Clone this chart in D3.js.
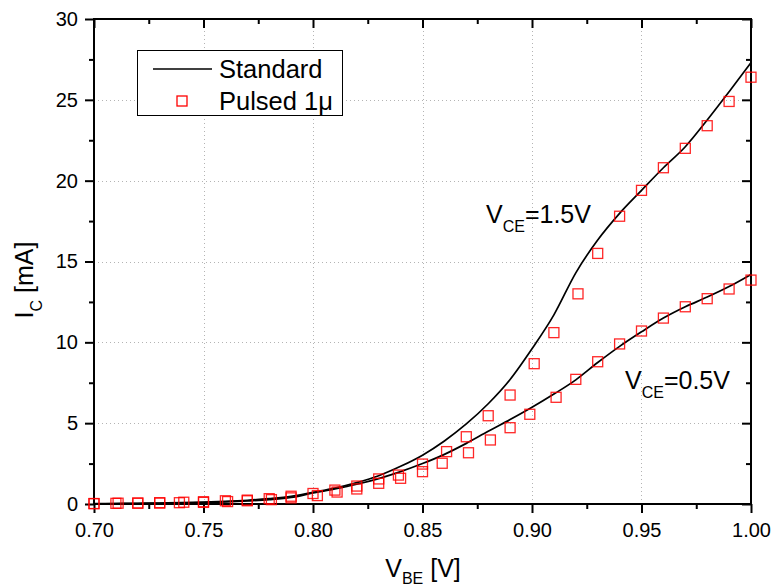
<!DOCTYPE html>
<html>
<head>
<meta charset="utf-8">
<script src="https://cdn.jsdelivr.net/npm/d3@7"></script>
<style>
  body { margin: 0; background: #fff; }
  svg { display: block; font-family: Arial, "Liberation Sans", sans-serif; }
</style>
</head>
<body>
<svg width="775" height="588"></svg>
<script>
// data
const vbe = [0.70, 0.71, 0.72, 0.73, 0.74, 0.75, 0.76, 0.77, 0.78, 0.79, 0.80,
  0.81, 0.82, 0.83, 0.84, 0.85, 0.86, 0.87, 0.88, 0.89, 0.90,
  0.91, 0.92, 0.93, 0.94, 0.95, 0.96, 0.97, 0.98, 0.99, 1.00];
const std15 = [0.02, 0.03, 0.04, 0.06, 0.08, 0.11, 0.16, 0.23, 0.33, 0.47, 0.72,
  0.98, 1.32, 1.75, 2.33, 3.02, 3.9, 4.95, 6.2, 7.7, 9.6,
  11.7, 14.3, 16.33, 17.98, 19.4, 20.8, 22.1, 23.75, 25.5, 27.3];
const std05 = [0.01, 0.02, 0.03, 0.04, 0.06, 0.09, 0.13, 0.19, 0.27, 0.4, 0.68,
  0.93, 1.22, 1.57, 2.0, 2.5, 3.07, 3.75, 4.5, 5.22, 5.98,
  6.8, 7.68, 8.75, 9.75, 10.65, 11.5, 12.2, 12.8, 13.45, 14.2];

const pulsedV15 = [0.700, 0.711, 0.720, 0.730, 0.741, 0.750, 0.760, 0.770, 0.780, 0.790, 0.800,
  0.810, 0.820, 0.830, 0.839, 0.850, 0.861, 0.870, 0.880, 0.890, 0.901,
  0.910, 0.921, 0.930, 0.940, 0.950, 0.960, 0.970, 0.980, 0.990, 1.000];
const pulsed15 = [0.03, 0.05, 0.06, 0.08, 0.11, 0.14, 0.2, 0.24, 0.33, 0.48, 0.65,
  0.86, 1.11, 1.55, 1.79, 2.47, 3.24, 4.16, 5.46, 6.74, 8.68,
  10.6, 13.0, 15.5, 17.8, 19.4, 20.8, 22.0, 23.4, 24.9, 26.4];
const pulsedV05 = [0.700, 0.710, 0.720, 0.730, 0.739, 0.750, 0.761, 0.770, 0.781, 0.790, 0.802,
  0.811, 0.820, 0.830, 0.840, 0.850, 0.859, 0.871, 0.881, 0.890, 0.899,
  0.911, 0.920, 0.930, 0.940, 0.950, 0.960, 0.970, 0.980, 0.990, 1.000];
const pulsed05 = [0.02, 0.04, 0.05, 0.06, 0.08, 0.1, 0.15, 0.2, 0.27, 0.38, 0.52,
  0.74, 0.93, 1.28, 1.59, 2.0, 2.52, 3.17, 3.96, 4.72, 5.55,
  6.6, 7.71, 8.8, 9.9, 10.7, 11.5, 12.2, 12.7, 13.3, 13.85];

const xTicks = [0.70, 0.75, 0.80, 0.85, 0.90, 0.95, 1.00];
const xMinor = [0.725, 0.775, 0.825, 0.875, 0.925, 0.975];
const yTicks = [0, 5, 10, 15, 20, 25, 30];
const yMinor = [2.5, 7.5, 12.5, 17.5, 22.5, 27.5];

const svg = d3.select('svg');
const pLeft = 94, pRight = 751, pTop = 19, pBottom = 504;

const x = d3.scaleLinear().domain([0.70, 1.00]).range([pLeft, pRight]);
const y = d3.scaleLinear().domain([0, 30]).range([pBottom, pTop]);

// dotted grid
const grid = svg.append('g').attr('stroke', '#b4b4b4').attr('stroke-width', 1)
  .attr('stroke-dasharray', '1,3');
grid.selectAll('.gx').data(xTicks.slice(1, -1)).join('line')
  .attr('x1', d => Math.round(x(d)) + 0.5).attr('x2', d => Math.round(x(d)) + 0.5)
  .attr('y1', pTop).attr('y2', pBottom);
grid.selectAll('.gy').data(yTicks.slice(1, -1)).join('line')
  .attr('y1', d => Math.round(y(d)) + 0.5).attr('y2', d => Math.round(y(d)) + 0.5)
  .attr('x1', pLeft).attr('x2', pRight);

// axes
function styleAxis(g) {
  g.select('.domain').remove();
  g.selectAll('line').attr('stroke', '#000').attr('stroke-width', 2);
  g.selectAll('text').attr('fill', '#000').style('font-size', '20px')
    .style('font-family', 'Arial, "Liberation Sans", sans-serif');
}
svg.append('g').attr('transform', `translate(0,${pBottom})`)
  .call(d3.axisBottom(x).tickValues(xTicks).tickSize(9).tickPadding(10).tickFormat(d3.format('.2f')))
  .call(styleAxis);
svg.append('g').attr('transform', `translate(0,${pBottom})`)
  .call(d3.axisBottom(x).tickValues(xMinor).tickSize(5).tickFormat(''))
  .call(styleAxis);
svg.append('g').attr('transform', `translate(${pLeft},0)`)
  .call(d3.axisLeft(y).tickValues(yTicks).tickSize(9).tickPadding(7).tickFormat(d3.format('d')))
  .call(styleAxis);
svg.append('g').attr('transform', `translate(${pLeft},0)`)
  .call(d3.axisLeft(y).tickValues(yMinor).tickSize(5).tickFormat(''))
  .call(styleAxis);
// top & right: inward ticks, no labels
svg.append('g').attr('transform', `translate(0,${pTop})`)
  .call(d3.axisTop(x).tickValues(xTicks).tickSize(-9).tickFormat(''))
  .call(styleAxis);
svg.append('g').attr('transform', `translate(0,${pTop})`)
  .call(d3.axisTop(x).tickValues(xMinor).tickSize(-5).tickFormat(''))
  .call(styleAxis);
svg.append('g').attr('transform', `translate(${pRight},0)`)
  .call(d3.axisRight(y).tickValues(yTicks).tickSize(-9).tickFormat(''))
  .call(styleAxis);
svg.append('g').attr('transform', `translate(${pRight},0)`)
  .call(d3.axisRight(y).tickValues(yMinor).tickSize(-5).tickFormat(''))
  .call(styleAxis);

svg.append('rect')
  .attr('x', pLeft).attr('y', pTop)
  .attr('width', pRight - pLeft).attr('height', pBottom - pTop)
  .attr('fill', 'none').attr('stroke', '#000').attr('stroke-width', 2);

// standard curves
const line = d3.line().x(d => x(d[0])).y(d => y(d[1])).curve(d3.curveMonotoneX);
[std15, std05].forEach(s => {
  svg.append('path')
    .attr('d', line(vbe.map((v, i) => [v, s[i]])))
    .attr('fill', 'none').attr('stroke', '#000').attr('stroke-width', 1.7);
});

// pulsed markers
const mk = 10;
[[pulsedV15, pulsed15], [pulsedV05, pulsed05]].forEach(([vs, is]) => {
  svg.append('g').selectAll('rect').data(vs.map((v, i) => [v, is[i]])).join('rect')
    .attr('x', d => x(d[0]) - mk / 2).attr('y', d => y(d[1]) - mk / 2)
    .attr('width', mk).attr('height', mk)
    .attr('fill', 'none').attr('stroke', '#ff0000').attr('stroke-width', 1.3)
    .attr('stroke-opacity', 0.85);
});

// legend
const leg = svg.append('g');
leg.append('rect').attr('x', 137.5).attr('y', 50.5).attr('width', 205).attr('height', 65)
  .attr('fill', '#fff').attr('stroke', '#000').attr('stroke-width', 1);
leg.append('line').attr('x1', 153).attr('x2', 212).attr('y1', 69).attr('y2', 69)
  .attr('stroke', '#000').attr('stroke-width', 1.7);
leg.append('rect').attr('x', 182 - mk / 2).attr('y', 101 - mk / 2).attr('width', mk).attr('height', mk)
  .attr('fill', 'none').attr('stroke', '#ff0000').attr('stroke-width', 1.3);
leg.append('text').attr('x', 219).attr('y', 78).style('font-size', '25.5px').text('Standard');
leg.append('text').attr('x', 219).attr('y', 110).style('font-size', '25.5px').text('Pulsed 1μ');

// annotations with subscripts
function subLabel(g, main, sub, rest, size, drop) {
  const t = g.append('text').style('font-size', size + 'px');
  t.append('tspan').text(main);
  t.append('tspan').attr('dy', drop).style('font-size', '16px').text(sub);
  t.append('tspan').attr('dy', -drop).text(rest);
  return t;
}
subLabel(svg, 'V', 'CE', '=1.5V', 25, 9).attr('x', 486).attr('y', 223);
subLabel(svg, 'V', 'CE', '=0.5V', 25, 9).attr('x', 625).attr('y', 389);

// axis titles
subLabel(svg, 'V', 'BE', ' [V]', 25, 7).attr('x', 423).attr('y', 577).attr('text-anchor', 'middle');
subLabel(svg, 'I', 'C', ' [mA]', 25, 9).attr('text-anchor', 'middle')
  .attr('transform', 'translate(33,280) rotate(-90)');
</script>
</body>
</html>
